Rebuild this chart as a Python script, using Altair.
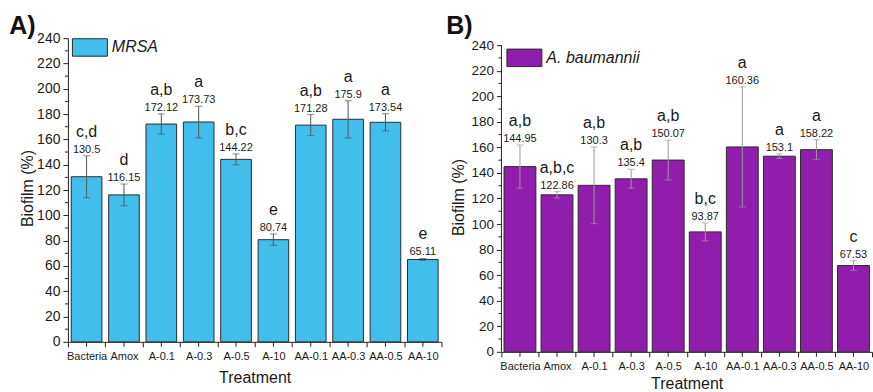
import altair as alt
import pandas as pd

FONT = "Liberation Sans"
INK = "#1a1a1a"
AXIS = "#222222"

categories = ["Bacteria", "Amox", "A-0.1", "A-0.3", "A-0.5", "A-10",
              "AA-0.1", "AA-0.3", "AA-0.5", "AA-10"]

mrsa_values = [130.5, 116.15, 172.12, 173.73, 144.22, 80.74, 171.28, 175.9, 173.54, 65.11]
mrsa_errors = [16.5, 8.6, 8.0, 12.5, 4.3, 4.5, 8.3, 14.7, 6.8, 0.8]
mrsa_letters = ["c,d", "d", "a,b", "a", "b,c", "e", "a,b", "a", "a", "e"]

ab_values = [144.95, 122.86, 130.3, 135.4, 150.07, 93.87, 160.36, 153.1, 158.22, 67.53]
ab_errors = [17.0, 2.5, 30.0, 7.4, 15.5, 7.0, 47.0, 1.8, 7.8, 3.8]
ab_letters = ["a,b", "a,b,c", "a,b", "a,b", "a,b", "b,c", "a", "a", "a", "c"]

y_major = [0, 20, 40, 60, 80, 100, 120, 140, 160, 180, 200, 220, 240]
y_minor = [10, 30, 50, 70, 90, 110, 130, 150, 170, 190, 210, 230]


def panel(values, errors, letters, series, color, err_color, tag,
          ymax, height, width, bar_band, legend_x, legend_y, tag_x, tag_y,
          ytitle_x, ytitle_y, xtitle_y, ylabel_size, own_domain):
    df = pd.DataFrame({"cat": categories, "value": values, "err": errors,
                       "letter": letters})
    df["hi"] = df["value"] + df["err"]
    df["lo"] = df["value"] - df["err"]
    df["vlabel"] = [str(v) for v in values]
    df["series"] = series

    yscale = alt.Scale(domain=[0, ymax], nice=False, zero=True)
    yaxis = alt.Axis(values=y_major, grid=False, domain=not own_domain,
                     domainColor=AXIS, tickColor=AXIS, tickSize=5,
                     labelPadding=3, labelFontSize=ylabel_size, labelFont=FONT,
                     labelColor=INK, title="Biofilm (%)", titleFont=FONT,
                     titleFontSize=16, titleFontWeight="normal", titleColor=INK,
                     titleAngle=-90, titleAlign="center", titleBaseline="middle",
                     titleX=ytitle_x, titleY=ytitle_y)

    def Y(field):
        return alt.Y(field, scale=yscale, axis=yaxis, title="Biofilm (%)")

    x = alt.X("cat:N", sort=categories,
              scale=alt.Scale(paddingInner=0, paddingOuter=0),
              axis=alt.Axis(title="Treatment", tickBand="extent", labelAngle=0,
                            labelOverlap=False, labelFontSize=11, labelFont=FONT,
                            labelColor=INK, tickSize=5, labelPadding=4,
                            domainColor=AXIS, tickColor=AXIS, grid=False,
                            titleFont=FONT, titleFontSize=16,
                            titleFontWeight="normal", titleColor=INK,
                            titleY=xtitle_y, titleBaseline="alphabetic"))

    base = alt.Chart(df).encode(x=x)

    bars = base.mark_bar(width=alt.RelativeBandSize(bar_band), stroke="#2b2b2b",
                         strokeWidth=1).encode(
        y=Y("value:Q"),
        fill=alt.Fill("series:N", scale=alt.Scale(domain=[series], range=[color]),
                      legend=alt.Legend(orient="none", legendX=legend_x,
                                        legendY=legend_y, title=None,
                                        symbolType="M-1,-0.5L1,-0.5L1,0.5L-1,0.5Z",
                                        symbolSize=1225, symbolStrokeColor="#2b2b2b",
                                        symbolStrokeWidth=1, symbolOpacity=1,
                                        labelFont=FONT, labelFontSize=16,
                                        labelFontStyle="italic", labelColor=INK,
                                        labelOffset=4, padding=0)),
    )
    err_line = base.mark_rule(color=err_color, strokeWidth=1).encode(
        y=Y("lo:Q"), y2="hi:Q")
    cap_hi = base.mark_tick(color=err_color, size=7, thickness=1).encode(y=Y("hi:Q"))
    cap_lo = base.mark_tick(color=err_color, size=7, thickness=1).encode(y=Y("lo:Q"))
    vtext = base.mark_text(baseline="alphabetic", dy=-3, fontSize=11, font=FONT,
                           color=INK).encode(y=Y("hi:Q"), text="vlabel:N")
    ltext = base.mark_text(baseline="alphabetic", dy=-19, fontSize=16, font=FONT,
                           color=INK).encode(y=Y("hi:Q"), text="letter:N")
    center_ticks = base.mark_rule(color=AXIS).encode(
        y=alt.value(height), y2=alt.value(height + 5))
    minor = alt.Chart(pd.DataFrame({"m": y_minor})).mark_rule(color=AXIS).encode(
        y=Y("m:Q"), x=alt.value(0), x2=alt.value(-3))
    tag_mark = alt.Chart(pd.DataFrame({"t": [tag]})).mark_text(
        align="left", baseline="alphabetic", fontSize=25, fontWeight="bold",
        font=FONT, color="#111111").encode(
        text="t:N", x=alt.value(tag_x), y=alt.value(tag_y))

    layers = [bars, err_line, cap_hi, cap_lo, vtext, ltext, center_ticks, minor,
              tag_mark]
    if own_domain:
        dom = alt.Chart(pd.DataFrame({"a": [0], "b": [240]})).mark_rule(
            color=AXIS).encode(x=alt.value(0), y=Y("a:Q"), y2="b:Q")
        layers.append(dom)
    return alt.layer(*layers).properties(width=width, height=height)


panel_a = panel(mrsa_values, mrsa_errors, mrsa_letters, "MRSA", "#42BEEC",
                "#555555", "A)", 240, 304, 374, 0.82, 4, -8.7, -58.7, -4,
                -40.5, 150, 41, 14, False)

panel_b_height = 314
panel_b = panel(ab_values, ab_errors, ab_letters, "A. baumannii", "#901DAB",
                "#9a9a9a", "B)", 240 * panel_b_height / 307, panel_b_height, 371,
                0.86, 5, 1.7, -55.3, -4.3, -43, 159, 37, 13.5, True)

chart = alt.hconcat(panel_a, panel_b, spacing=60, bounds="flush").resolve_scale(
    x="independent", y="independent", fill="independent"
).resolve_legend(fill="independent").properties(
    padding={"left": 9, "top": 13, "right": 0, "bottom": 0}
).configure_view(stroke=None)

chart.save("out.html", embed_options={"renderer": "svg", "actions": False})
